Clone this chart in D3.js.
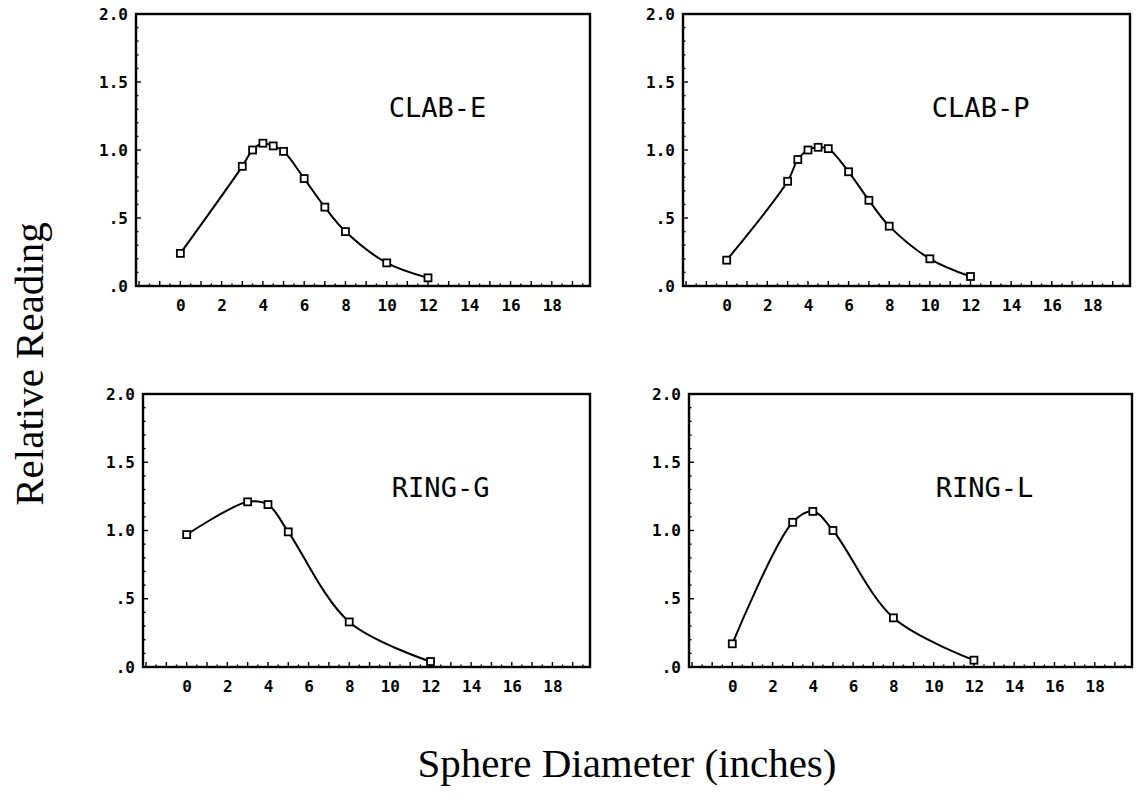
<!DOCTYPE html>
<html>
<head>
<meta charset="utf-8">
<script src="https://cdn.jsdelivr.net/npm/d3@7"></script>
<style>
  html, body { margin: 0; padding: 0; background: #fff; }
  svg { display: block; }
</style>
</head>
<body>
<svg id="chart" width="1141" height="797"></svg>
<script>
// Sphere diameters (inches) and relative readings for each instrument
const clabEDiameter = [0, 3, 3.5, 4, 4.5, 5, 6, 7, 8, 10, 12];
const clabEReading  = [0.24, 0.88, 1.00, 1.05, 1.03, 0.99, 0.79, 0.58, 0.40, 0.17, 0.06];

const clabPDiameter = [0, 3, 3.5, 4, 4.5, 5, 6, 7, 8, 10, 12];
const clabPReading  = [0.19, 0.77, 0.93, 1.00, 1.02, 1.01, 0.84, 0.63, 0.44, 0.20, 0.07];

const ringGDiameter = [0, 3, 4, 5, 8, 12];
const ringGReading  = [0.97, 1.21, 1.19, 0.99, 0.33, 0.04];

const ringLDiameter = [0, 3, 4, 5, 8, 12];
const ringLReading  = [0.17, 1.06, 1.14, 1.00, 0.36, 0.05];

const panelNames = ["CLAB-E", "CLAB-P", "RING-G", "RING-L"];
const xTickValues = [0, 2, 4, 6, 8, 10, 12, 14, 16, 18];
const yTickValues = [0, 0.5, 1.0, 1.5, 2.0];
const yTickLabels = [".0", ".5", "1.0", "1.5", "2.0"];

const series = [
  { name: panelNames[0], xs: clabEDiameter, ys: clabEReading },
  { name: panelNames[1], xs: clabPDiameter, ys: clabPReading },
  { name: panelNames[2], xs: ringGDiameter, ys: ringGReading },
  { name: panelNames[3], xs: ringLDiameter, ys: ringLReading }
];

// Frame of each small plot (left, right, top, bottom)
const frames = [
  { l: 136, r: 590,  t: 14,  b: 286 },
  { l: 683, r: 1130, t: 14,  b: 286 },
  { l: 143, r: 590,  t: 394, b: 667 },
  { l: 689, r: 1132, t: 394, b: 667 }
];

const svg = d3.select("#chart");
const tickFont = "'DejaVu Sans Mono', monospace";
const serif = "'Liberation Serif', 'Times New Roman', serif";

series.forEach((s, i) => {
  const f = frames[i];
  const x = d3.scaleLinear().domain([-2.15, 19.85]).range([f.l, f.r]);
  const y = d3.scaleLinear().domain([0, 2]).range([f.b, f.t]);
  const g = svg.append("g");

  // minor ticks along the bottom (every half unit) and left (every 0.1)
  const xMinor = d3.range(-2, 19.6, 0.5);
  g.selectAll(".xminor").data(xMinor).join("line")
    .attr("x1", d => x(d)).attr("x2", d => x(d))
    .attr("y1", f.b).attr("y2", d => f.b - (Number.isInteger(d) ? 5 : 2.5))
    .attr("stroke", "#000").attr("stroke-width", 1.4);
  const yMinor = d3.range(0.1, 2, 0.1);
  g.selectAll(".yminor").data(yMinor).join("line")
    .attr("x1", f.l).attr("x2", d => f.l + (Math.abs(d * 2 - Math.round(d * 2)) < 1e-6 ? 5 : 2.5))
    .attr("y1", d => y(d)).attr("y2", d => y(d))
    .attr("stroke", "#000").attr("stroke-width", 1.4);

  // bottom axis labels
  const xAxis = d3.axisBottom(x).tickValues(xTickValues).tickSize(0).tickPadding(0)
    .tickFormat(d3.format("d"));
  const xg = g.append("g").attr("transform", `translate(0,${f.b + 13})`).call(xAxis);
  xg.select(".domain").remove();
  xg.selectAll("text").attr("font-family", tickFont).attr("font-weight", "bold")
    .attr("font-size", 16).attr("fill", "#000").attr("dy", "0.72em");

  // left axis labels
  const yAxis = d3.axisLeft(y).tickValues(yTickValues).tickSize(0).tickPadding(8)
    .tickFormat((d, k) => yTickLabels[k]);
  const yg = g.append("g").attr("transform", `translate(${f.l},0)`).call(yAxis);
  yg.select(".domain").remove();
  yg.selectAll("text").attr("font-family", tickFont).attr("font-weight", "bold")
    .attr("font-size", 16).attr("fill", "#000");

  // frame
  g.append("rect")
    .attr("x", f.l).attr("y", f.t)
    .attr("width", f.r - f.l).attr("height", f.b - f.t)
    .attr("fill", "none").attr("stroke", "#000").attr("stroke-width", 2.4);

  // smooth curve through the readings
  const pts = s.xs.map((v, k) => [v, s.ys[k]]);
  const line = d3.line().x(d => x(d[0])).y(d => y(d[1])).curve(d3.curveCatmullRom.alpha(0.5));
  g.append("path").attr("d", line(pts))
    .attr("fill", "none").attr("stroke", "#000").attr("stroke-width", 2);

  // square markers
  g.selectAll(".pt").data(pts).join("rect")
    .attr("x", d => x(d[0]) - 3.5).attr("y", d => y(d[1]) - 3.5)
    .attr("width", 7).attr("height", 7)
    .attr("fill", "#fff").attr("stroke", "#000").attr("stroke-width", 1.8);

  // instrument name
  g.append("text")
    .attr("x", x(10) + 2).attr("y", f.t + 103)
    .attr("font-family", tickFont).attr("font-size", 27).attr("fill", "#000")
    .text(s.name);
});

// shared axis titles
svg.append("text")
  .attr("transform", "translate(43,364) rotate(-90)")
  .attr("text-anchor", "middle")
  .attr("font-family", serif)
  .attr("font-size", 41).attr("fill", "#000")
  .text("Relative Reading");

svg.append("text")
  .attr("x", 627).attr("y", 777)
  .attr("text-anchor", "middle")
  .attr("font-family", serif)
  .attr("font-size", 41).attr("fill", "#000")
  .text("Sphere Diameter (inches)");
</script>
</body>
</html>
